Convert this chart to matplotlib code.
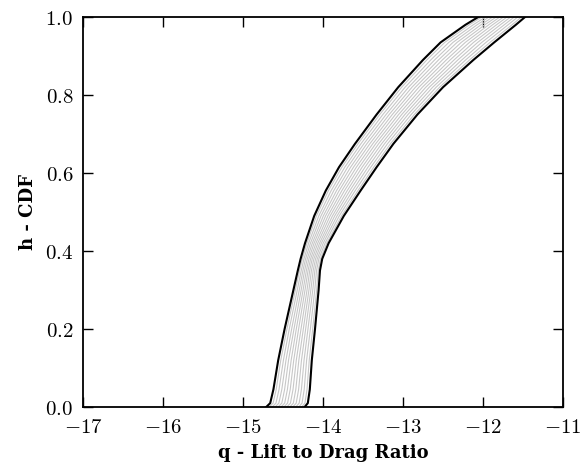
import numpy as np
import matplotlib
matplotlib.use("Agg")
import matplotlib.pyplot as plt

plt.rcParams['mathtext.fontset'] = 'cm'

# CDF levels (y) shared by all curves
cdf_levels = [0.0, 0.01, 0.045, 0.12, 0.2, 0.3, 0.35, 0.38, 0.42, 0.49, 0.555,
              0.615, 0.675, 0.75, 0.82, 0.89, 0.935, 0.98, 1.0]

# Outer (black) bounding curves: x values at each CDF level
left_x = [-14.71, -14.66, -14.62, -14.56, -14.48, -14.37, -14.315, -14.28, -14.225, -14.11,
          -13.965, -13.80, -13.60, -13.33, -13.06, -12.75, -12.53, -12.22, -12.06]
right_x = [-14.23, -14.19, -14.165, -14.14, -14.10, -14.055, -14.038, -14.01, -13.93, -13.74,
           -13.53, -13.33, -13.12, -12.82, -12.50, -12.12, -11.86, -11.59, -11.475]

# Inner (gray) curves: each row = x positions of the 12 gray curves at one CDF level
gray_x_at_level = [
    [-14.673, -14.636, -14.599, -14.562, -14.525, -14.488, -14.452, -14.415, -14.378, -14.341, -14.304, -14.267],
    [-14.624, -14.588, -14.552, -14.515, -14.479, -14.443, -14.407, -14.371, -14.335, -14.298, -14.262, -14.226],
    [-14.585, -14.550, -14.515, -14.480, -14.445, -14.410, -14.375, -14.340, -14.305, -14.270, -14.235, -14.200],
    [-14.528, -14.495, -14.463, -14.431, -14.398, -14.366, -14.334, -14.302, -14.269, -14.237, -14.205, -14.172],
    [-14.451, -14.422, -14.392, -14.363, -14.334, -14.305, -14.275, -14.246, -14.217, -14.188, -14.158, -14.129],
    [-14.346, -14.322, -14.297, -14.273, -14.249, -14.225, -14.200, -14.176, -14.152, -14.128, -14.103, -14.079],
    [-14.294, -14.272, -14.251, -14.230, -14.208, -14.187, -14.166, -14.145, -14.123, -14.102, -14.081, -14.059],
    [-14.259, -14.238, -14.218, -14.197, -14.176, -14.155, -14.135, -14.114, -14.093, -14.072, -14.052, -14.031],
    [-14.202, -14.180, -14.157, -14.134, -14.112, -14.089, -14.066, -14.043, -14.021, -13.998, -13.975, -13.953],
    [-14.082, -14.053, -14.025, -13.996, -13.968, -13.939, -13.911, -13.882, -13.854, -13.825, -13.797, -13.768],
    [-13.932, -13.898, -13.865, -13.831, -13.798, -13.764, -13.731, -13.697, -13.664, -13.630, -13.597, -13.563],
    [-13.764, -13.728, -13.692, -13.655, -13.619, -13.583, -13.547, -13.511, -13.475, -13.438, -13.402, -13.366],
    [-13.563, -13.526, -13.489, -13.452, -13.415, -13.378, -13.342, -13.305, -13.268, -13.231, -13.194, -13.157],
    [-13.291, -13.252, -13.212, -13.173, -13.134, -13.095, -13.055, -13.016, -12.977, -12.938, -12.898, -12.859],
    [-13.017, -12.974, -12.931, -12.888, -12.845, -12.802, -12.758, -12.715, -12.672, -12.629, -12.586, -12.543],
    [-12.702, -12.653, -12.605, -12.556, -12.508, -12.459, -12.411, -12.362, -12.314, -12.265, -12.217, -12.168],
    [-12.478, -12.427, -12.375, -12.324, -12.272, -12.221, -12.169, -12.118, -12.066, -12.015, -11.963, -11.912],
    [-12.172, -12.123, -12.075, -12.026, -11.978, -11.929, -11.881, -11.832, -11.784, -11.735, -11.687, -11.638],
    [-12.015, -11.970, -11.925, -11.880, -11.835, -11.790, -11.745, -11.700, -11.655, -11.610, -11.565, -11.520],
]

x_ticks = [-17, -16, -15, -14, -13, -12, -11]
y_ticks = [0.0, 0.2, 0.4, 0.6, 0.8, 1.0]

fig = plt.figure(figsize=(5.82, 4.70), dpi=100)
ax = fig.add_axes([0.1426, 0.134, 0.8248, 0.8298])

gray = np.array(gray_x_at_level)
for k in range(gray.shape[1]):
    ax.plot(gray[:, k], cdf_levels, color='0.78', lw=0.8, zorder=2,
            solid_joinstyle='round')
ax.plot(left_x, cdf_levels, color='black', lw=1.5, zorder=3, solid_joinstyle='round')
ax.plot(right_x, cdf_levels, color='black', lw=1.5, zorder=3, solid_joinstyle='round')

ax.set_xlim(-17, -11)
ax.set_ylim(0, 1)
ax.set_xticks(x_ticks)
ax.set_yticks(y_ticks)
ax.set_xticklabels([r'$%d$' % v for v in x_ticks], fontsize=15)
ax.set_yticklabels([r'$%.1f$' % v for v in y_ticks], fontsize=15)
ax.tick_params(direction='in', length=7, width=1, top=True, right=True, pad=7)
for s in ax.spines.values():
    s.set_linewidth(1.3)

ax.set_xlabel('q - Lift to Drag Ratio', fontsize=13, fontweight='bold', family='DejaVu Serif', labelpad=5)
ax.set_ylabel('h - CDF', fontsize=13, fontweight='bold', family='DejaVu Serif', labelpad=6)

fig.savefig('out.png', dpi=100)
